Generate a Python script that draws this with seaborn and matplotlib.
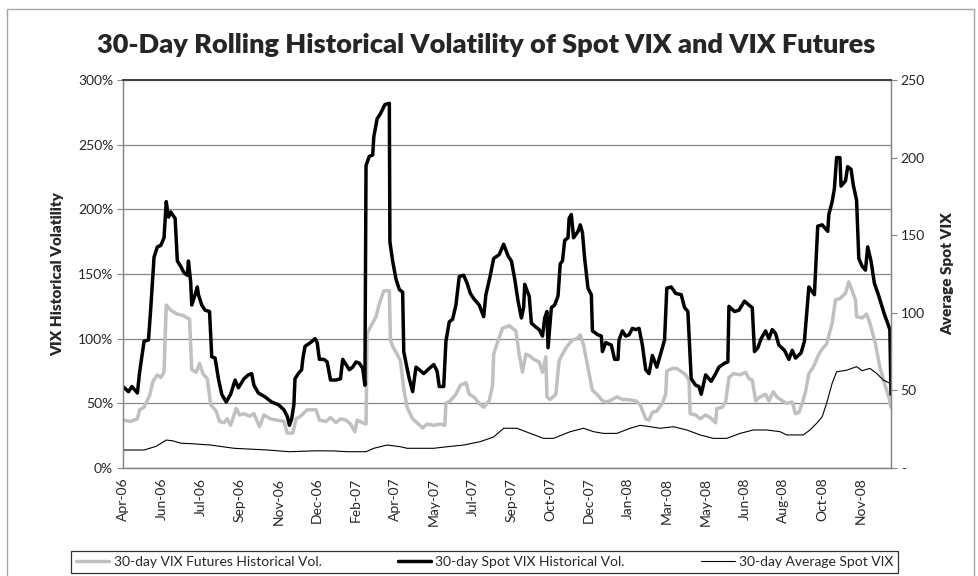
import numpy as np
import pandas as pd
import seaborn as sns
import matplotlib
matplotlib.use("Agg")
import matplotlib.pyplot as plt
from matplotlib.patches import Rectangle
from matplotlib.ticker import FuncFormatter, MultipleLocator

# x is the trading-day index from the start of the sample (Apr-06)
tick_labels = ["Apr-06", "Jun-06", "Jul-06", "Sep-06", "Nov-06", "Dec-06", "Feb-07",
               "Apr-07", "May-07", "Jul-07", "Sep-07", "Oct-07", "Dec-07", "Jan-08",
               "Mar-08", "May-08", "Jun-08", "Aug-08", "Oct-08", "Nov-08"]
tick_step = 35
last_day = 692

# 30-day VIX futures historical vol (%)
fut_day = [0, 7, 13, 15, 19, 24, 27, 31, 34, 37, 39, 43, 49, 54, 60, 62, 66, 69, 72, 76,
           79, 84, 87, 91, 94, 97, 102, 105, 109, 114, 118, 123, 127, 133, 139, 145, 148, 153,
           156, 160, 166, 174, 177, 183, 187, 192, 196, 201, 205, 209, 211, 216, 219, 220, 223,
           228, 231, 235, 240, 241, 243, 247, 250, 253, 256, 261, 265, 270, 274, 280, 286, 290,
           291, 295, 300, 304, 309, 312, 316, 321, 325, 330, 333, 334, 337, 342, 348, 354, 357,
           360, 363, 366, 370, 375, 378, 381, 382, 385, 390, 393, 396, 400, 405, 409, 412, 415,
           418, 423, 427, 432, 436, 441, 445, 450, 454, 462, 466, 471, 474, 477, 481, 486, 489,
           490, 495, 499, 504, 507, 510, 511, 516, 520, 525, 529, 534, 535, 540, 543, 546, 550,
           556, 561, 564, 567, 570, 574, 579, 582, 586, 589, 594, 598, 603, 606, 609, 612, 615,
           618, 622, 627, 630, 634, 639, 642, 646, 651, 654, 657, 660, 661, 666, 670, 673, 678,
           682, 687, 690, 692]
fut_vol = [37, 36, 38, 45, 47, 56, 67, 72, 70, 74, 126, 122, 119, 118, 115, 76, 74, 81, 73, 69,
           49, 44, 36, 35, 38, 33, 46, 41, 42, 40, 42, 32, 41, 38, 37, 36, 27, 27,
           38, 40, 45, 45, 37, 36, 39, 35, 38, 37, 34, 28, 37, 35, 34, 104, 109,
           117, 127, 137, 137, 99, 94, 88, 83, 61, 47, 38, 35, 31, 34, 33, 34, 33,
           50, 52, 57, 64, 66, 57, 55, 50, 47, 52, 64, 88, 96, 108, 110, 106, 88,
           74, 88, 87, 84, 82, 74, 86, 55, 53, 57, 83, 88, 94, 99, 100, 103, 95,
           82, 60, 57, 52, 51, 53, 55, 53, 53, 52, 49, 38, 37, 43, 44, 50, 57,
           75, 77, 77, 74, 72, 68, 42, 41, 38, 41, 39, 35, 46, 47, 51, 70, 73,
           72, 74, 69, 68, 52, 55, 57, 52, 59, 55, 52, 50, 51, 42, 43, 50, 59,
           73, 78, 88, 92, 96, 112, 130, 131, 135, 144, 137, 130, 117, 116, 119, 112, 96,
           78, 63, 55, 47]

# 30-day spot VIX historical vol (%)
spot_day = [0, 5, 8, 13, 15, 19, 23, 25, 28, 31, 34, 37, 39, 41, 43, 47, 49, 52, 55, 58,
            59, 61, 62, 65, 67, 68, 71, 74, 78, 80, 83, 86, 89, 93, 97, 101, 104, 109, 113, 116,
            118, 122, 128, 134, 140, 145, 148, 150, 152, 154, 155, 158, 161, 162, 164, 169, 173,
            175, 177, 181, 184, 187, 192, 196, 198, 201, 204, 207, 210, 213, 216, 218, 219, 222,
            225, 226, 229, 232, 236, 240, 240.5, 243, 246, 249, 252, 253, 256, 258, 261, 264,
            267, 271, 276, 280, 283, 285, 289, 291, 294, 297, 300, 303, 307, 310, 313, 316, 321,
            325, 327, 331, 334, 339, 343, 347, 350, 353, 356, 359, 361, 362, 365, 366, 368, 372,
            375, 378, 380, 382, 383, 386, 389, 392, 394, 396, 398, 401, 402, 404, 406, 410, 412,
            414, 416, 419, 422, 423, 428, 431, 432, 435, 440, 443, 446, 447, 450, 453, 456, 459,
            462, 465, 468, 471, 474, 477, 481, 485, 488, 490, 494, 498, 503, 506, 509, 512, 516,
            519, 521, 525, 530, 534, 537, 542, 545, 546, 551, 555, 560, 564, 567, 569, 572, 575,
            579, 582, 585, 588, 591, 596, 600, 603, 606, 611, 614, 618, 623, 626, 630, 635, 636,
            639, 641, 643, 646, 647, 651, 653, 656, 658, 661, 663, 666, 669, 671, 674, 677, 681,
            686, 689, 691, 692]
spot_vol = [63, 59, 63, 58, 74, 98, 99, 123, 163, 171, 172, 178, 206, 194, 198, 193, 160, 156, 151, 149,
            160, 144, 126, 134, 140, 134, 126, 122, 121, 86, 85, 69, 57, 51, 57, 68, 62, 69, 72, 73,
            64, 58, 55, 51, 49, 45, 40, 33, 38, 49, 69, 73, 76, 84, 94, 97, 100,
            97, 84, 84, 82, 68, 68, 69, 84, 80, 76, 78, 82, 81, 77, 64, 234, 241,
            242, 256, 270, 274, 281, 282, 175, 160, 146, 138, 136, 90, 77, 69, 59, 78,
            76, 73, 77, 80, 75, 63, 63, 98, 113, 115, 126, 148, 149, 143, 135, 131, 126,
            117, 134, 149, 162, 165, 173, 164, 160, 146, 129, 116, 124, 142, 135, 133, 112, 109,
            107, 102, 116, 121, 93, 124, 126, 133, 158, 160, 176, 178, 193, 196, 178, 183, 188,
            182, 162, 139, 134, 106, 103, 102, 90, 97, 95, 84, 84, 99, 106, 102, 103, 108,
            107, 108, 95, 76, 73, 87, 78, 90, 99, 139, 140, 135, 134, 124, 121, 69, 64,
            63, 57, 72, 67, 73, 78, 81, 82, 125, 121, 122, 129, 126, 124, 90, 93, 100,
            106, 100, 107, 104, 95, 91, 84, 91, 85, 89, 98, 140, 134, 187, 188, 183, 196,
            206, 216, 240, 240, 218, 222, 233, 231, 219, 207, 162, 156, 153, 171, 160, 143, 133,
            119, 112, 107, 57]

# 30-day average spot VIX (level, right axis)
avg_day = [0, 19, 30, 39, 45, 52, 65, 79, 100, 130, 150, 175, 190, 202, 219, 226, 238, 250,
           256, 280, 292, 307, 322, 334, 343, 355, 367, 379, 388, 403, 415, 424, 433, 445, 457,
           466, 475, 484, 496, 508, 520, 532, 544, 556, 568, 580, 592, 598, 613, 619, 625, 630,
           634, 639, 643, 652, 661, 666, 673, 679, 685, 691]
avg_vix = [11.6, 11.6, 14.0, 18.0, 17.5, 16.0, 15.5, 14.8, 12.7, 11.6, 10.5, 11.1, 11.0, 10.5,
           10.5, 12.7, 14.8, 13.7, 12.7, 12.7, 13.7, 14.8, 17.0, 20.0, 25.6, 25.6, 22.3, 19.1,
           19.1, 23.4, 25.6, 23.4, 22.3, 22.3, 25.6, 27.5, 26.6, 25.6, 26.6, 24.5, 21.3, 19.1,
           19.1, 22.3, 24.5, 24.5, 23.4, 21.3, 21.3, 24.5, 28.8, 33.0, 41.7, 54.6, 62.0, 63.0,
           65.3, 62.7, 64.2, 61.0, 56.7, 54.6]

fut = pd.DataFrame({"day": fut_day, "vol": fut_vol})
spot = pd.DataFrame({"day": spot_day, "vol": spot_vol})
avg = pd.DataFrame({"day": avg_day, "vix": avg_vix})

sns.set_style("white")
plt.rcParams["font.family"] = ["Lato", "DejaVu Sans"]

fig = plt.figure(figsize=(9.79, 5.76), dpi=100)
ax = fig.add_axes([0.1256, 0.1875, 0.9101 - 0.1256, 0.8611 - 0.1875])
ax2 = ax.twinx()

grey = "#c0c0c0"
axis_col = "#868686"

sns.lineplot(data=fut, x="day", y="vol", ax=ax, color=grey, lw=2.5, sort=False,
             label="30-day VIX Futures Historical Vol.", legend=False)
sns.lineplot(data=spot, x="day", y="vol", ax=ax, color="black", lw=2.5, sort=False,
             label="30-day Spot VIX Historical Vol.", legend=False)
sns.lineplot(data=avg, x="day", y="vix", ax=ax2, color="black", lw=0.8, sort=False,
             label="30-day Average Spot VIX", legend=False)

ax.set_xlim(0, last_day)
ax.set_ylim(0, 300)
ax2.set_ylim(0, 250)
ax.yaxis.set_major_locator(MultipleLocator(50))
ax2.yaxis.set_major_locator(MultipleLocator(50))
ax.yaxis.set_major_formatter(FuncFormatter(lambda v, p: f"{v:.0f}%"))
ax2.yaxis.set_major_formatter(FuncFormatter(lambda v, p: "-" if v == 0 else f"{v:.0f}"))

ax.set_xticks(np.arange(len(tick_labels)) * tick_step)
ax.set_xticklabels(tick_labels, rotation=90, fontsize=10)
ax.grid(axis="y", color=axis_col, lw=0.9)
ax.set_axisbelow(True)

for a in (ax, ax2):
    a.tick_params(axis="both", direction="out", length=4, width=0.8, color=axis_col,
                  labelsize=10, pad=3)
    for s in a.spines.values():
        s.set_color(axis_col)
        s.set_linewidth(0.9)
    a.spines["top"].set_color("#404040")
    a.spines["top"].set_linewidth(1.3)

ax.set_xlabel("")
ax.set_ylabel("VIX Historical Volatility", fontsize=11, fontweight="heavy", labelpad=10)
ax2.set_ylabel("Average Spot VIX", fontsize=11, fontweight="heavy", labelpad=12)

fig.text(0.497, 0.922, "30-Day Rolling Historical Volatility of Spot VIX and VIX Futures",
         ha="center", va="center", fontsize=19.5, fontweight="heavy")

h1, l1 = ax.get_legend_handles_labels()
h2, l2 = ax2.get_legend_handles_labels()
leg = fig.legend(h1 + h2, l1 + l2, loc="center", bbox_to_anchor=(0.495, 0.024), ncol=3,
                 fontsize=10, frameon=True, fancybox=False, edgecolor="black",
                 handlelength=2.4, handletextpad=0.3, columnspacing=5.5, borderpad=0.35)
leg.get_frame().set_linewidth(0.9)

fig.patches.append(Rectangle((0.007, -0.05), 0.988, 1.035, transform=fig.transFigure,
                             fill=False, edgecolor="#a6a6a6", lw=1))

fig.savefig("out.png", dpi=100)
